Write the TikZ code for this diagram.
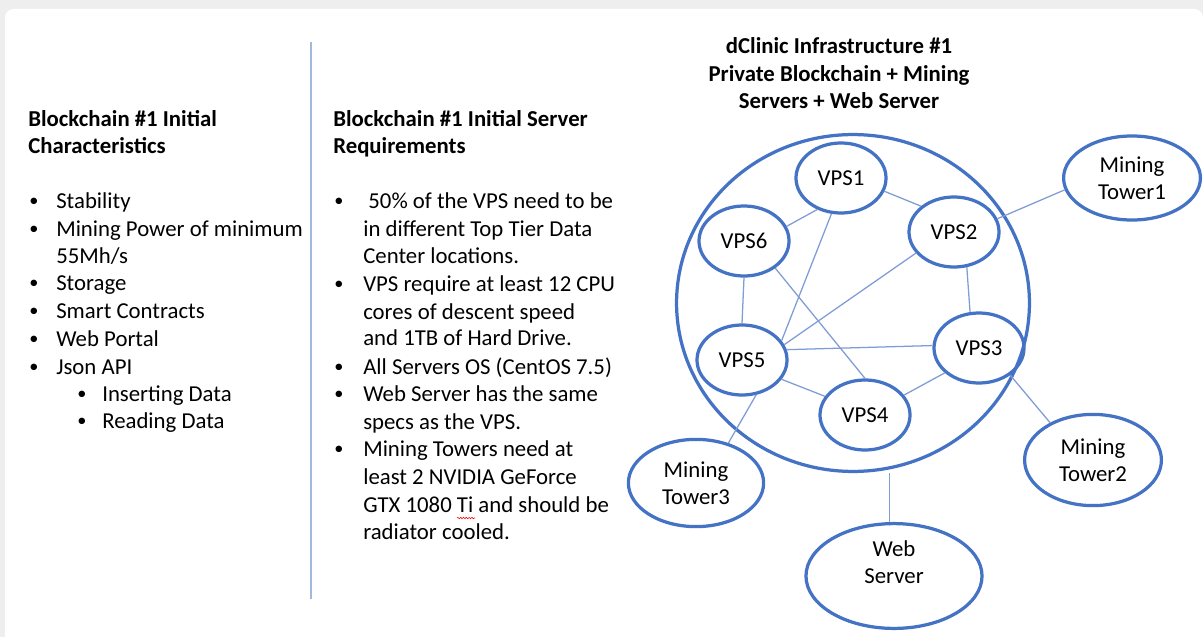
\documentclass[tikz,border=0pt]{standalone}
\usepackage{fontspec}
\setmainfont{Carlito}
\usetikzlibrary{shapes.geometric,decorations.pathmorphing}
\definecolor{officeblue}{HTML}{4472C4}
\definecolor{linkblue}{HTML}{7F9CD6}
\definecolor{rulerblue}{HTML}{A3B8E0}
\definecolor{paper}{HTML}{EEEEEE}
\begin{document}
\begin{tikzpicture}[
    x=0.025cm, y=-0.025cm,
    every node/.style={font=\fontsize{16.2}{19}\selectfont, inner sep=0pt},
    txt/.style={anchor=mid west, yshift=-2.2pt},
    bullet/.style={txt, font=\fontsize{13}{15}\selectfont, yshift=1.5pt},
    head/.style={txt, font=\fontsize{16.2}{19}\selectfont\bfseries},
    title/.style={anchor=mid, yshift=-3pt, font=\fontsize{16.2}{19}\selectfont\bfseries},
    server/.style={ellipse, draw=officeblue, line width=2.3pt, align=center,
      minimum width=2.25cm, minimum height=1.75cm},
    link/.style={draw=linkblue, line width=0.9pt},
    ]
    \useasboundingbox (0,0) rectangle (1203,637);
    \fill[paper] (0,0) rectangle (1203,637);
    \fill[white] (1203,637) -- (5,637) {[rounded corners=6] -- (5,9) -- (1203,9)} -- cycle;

    % left column
    \node[head] (lhead1) at (28,120) {Blockchain \#1 Initial};
    \node[head] (lhead2) at (28,147) {Characteristics};
    \foreach \y/\t [count=\i] in {202/Stability, 230/Mining Power of minimum,
        257/{55Mh/s}, 284/Storage, 312/Smart Contracts, 340/Web Portal,
        368/Json API} {
      \node[txt] (left\i) at (56,\y) {\t};
    }
    \foreach \y [count=\i] in {202,230,284,312,340,368} {
      \node[bullet] (ldot\i) at (29,\y) {•};
    }
    \foreach \y/\t [count=\i] in {395/Inserting Data, 422/Reading Data} {
      \node[txt] (lsub\i) at (102,\y) {\t};
      \node[bullet] (lsubdot\i) at (77,\y) {•};
    }

    \draw[rulerblue, line width=1pt] (311,42) -- (311,599);

    % middle column
    \node[head] (mhead1) at (333,120) {Blockchain \#1 Initial Server};
    \node[head] (mhead2) at (333,147) {Requirements};
    \foreach \y/\t [count=\i] in {202/{\ 50\% of the VPS need to be},
        230/in different Top Tier Data, 257/Center locations.,
        285/VPS require at least 12 CPU, 313/cores of descent speed,
        339/and 1TB of Hard Drive., 368/All Servers OS (CentOS 7.5),
        395/Web Server has the same, 423/specs as the VPS.,
        450/Mining Towers need at, 478/least 2 NVIDIA GeForce,
        506/GTX 1080 Ti and should be, 533/radiator cooled.} {
      \node[txt] (mid\i) at (363,\y) {\t};
    }
    \foreach \y [count=\i] in {202,285,368,395,450} {
      \node[bullet] (mdot\i) at (334,\y) {•};
    }
    \draw[red, line width=0.4pt, decorate,
      decoration={snake, amplitude=0.5pt, segment length=2pt}] (457,518) -- (475,518);

    % infrastructure
    \node[title] (title1) at (839,46) {dClinic Infrastructure \#1};
    \node[title] (title2) at (839,74) {Private Blockchain + Mining};
    \node[title] (title3) at (839,101) {Servers + Web Server};

    \node[ellipse, draw=officeblue, line width=2.3pt,
      minimum width=8.82cm, minimum height=8.42cm] (cluster) at (853,303) {};

    \node[server] (vps1) at (841,178) {VPS1};
    \node[server] (vps2) at (954,232) {VPS2};
    \node[server] (vps3) at (979,348) {VPS3};
    \node[server] (vps4) at (865,415) {VPS4};
    \node[server] (vps5) at (742,360) {VPS5};
    \node[server] (vps6) at (744,241) {VPS6};

    \node[server, minimum width=3.42cm, minimum height=2.1cm] (tower1)
      at (1132,178) {Mining\\Tower1};
    \node[server, minimum width=3.42cm, minimum height=2.28cm] (tower2)
      at (1093,460) {Mining\\Tower2};
    \node[server, minimum width=3.38cm, minimum height=2.18cm] (tower3)
      at (696,483) {Mining\\Tower3};
    \node[server, minimum width=4.4cm, minimum height=2.62cm] (web)
      at (894,576) {Web\\Server\\[1pt]};

    \foreach \a/\b in {vps1.343/vps2.142, vps6.19/vps1.233, vps1.255/vps5.26,
        vps6.south/vps5.north, vps6.319/vps4.north, vps2.209/vps5.20,
        vps2.290/vps3.104, vps5.13/vps3.177, vps5.334/vps4.155,
        vps4.27/vps3.216, vps2.17/tower1.190, vps3.319/tower2.139,
        vps5.292/tower3.51} {
      \draw[link] (\a) -- (\b);
    }
    \draw[link] (web.95) -- (web.95 |- cluster.south);
\end{tikzpicture}
\end{document}
